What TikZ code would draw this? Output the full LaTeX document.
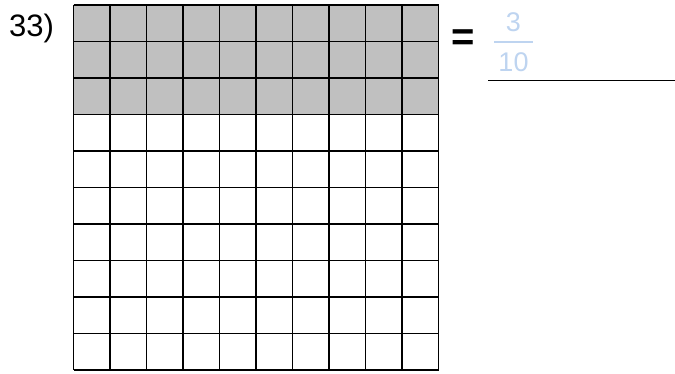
\documentclass[tikz,border=0pt]{standalone}
\usepackage{fontspec}
\setmainfont{Liberation Sans}
\definecolor{cellgray}{RGB}{192,192,192}
\definecolor{answer}{RGB}{190,212,240}
\begin{document}
\begin{tikzpicture}[x=1pt,y=-1pt,
  gridline/.style={line width=1.5pt,black},
  label/.style={inner sep=0pt,font=\fontsize{31}{31}\selectfont},
  ans/.style={inner sep=0pt,text=answer,font=\fontsize{27}{27}\selectfont}]
\useasboundingbox (0,0) rectangle (675,374);
\fill[cellgray] (73.5,5) rectangle (438.5,114.5);
\foreach \i in {0,...,10}{
  \draw[gridline] ({73.5+36.5*\i},5) -- ({73.5+36.5*\i},370);
  \draw[gridline] (73.5,{5+36.5*\i}) -- (438.5,{5+36.5*\i});
}
\node[label,anchor=base west] (num) at (9,37) {33)};
\node[inner sep=0pt,font=\fontsize{40}{40}\selectfont\bfseries] (eq) at (463.5,40) {=};
\node[ans,anchor=base] (top) at (513.5,32) {3};
\node[ans,anchor=base] (bot) at (513.5,72) {10};
\coordinate (fl) at (494,42);
\coordinate (fr) at (533,42);
\draw[answer,line width=1.3pt] (fl) -- (fr);
\coordinate (ul) at (488,80.5);
\coordinate (ur) at (675,80.5);
\draw[black,line width=1.8pt] (ul) -- (ur);
\end{tikzpicture}
\end{document}
